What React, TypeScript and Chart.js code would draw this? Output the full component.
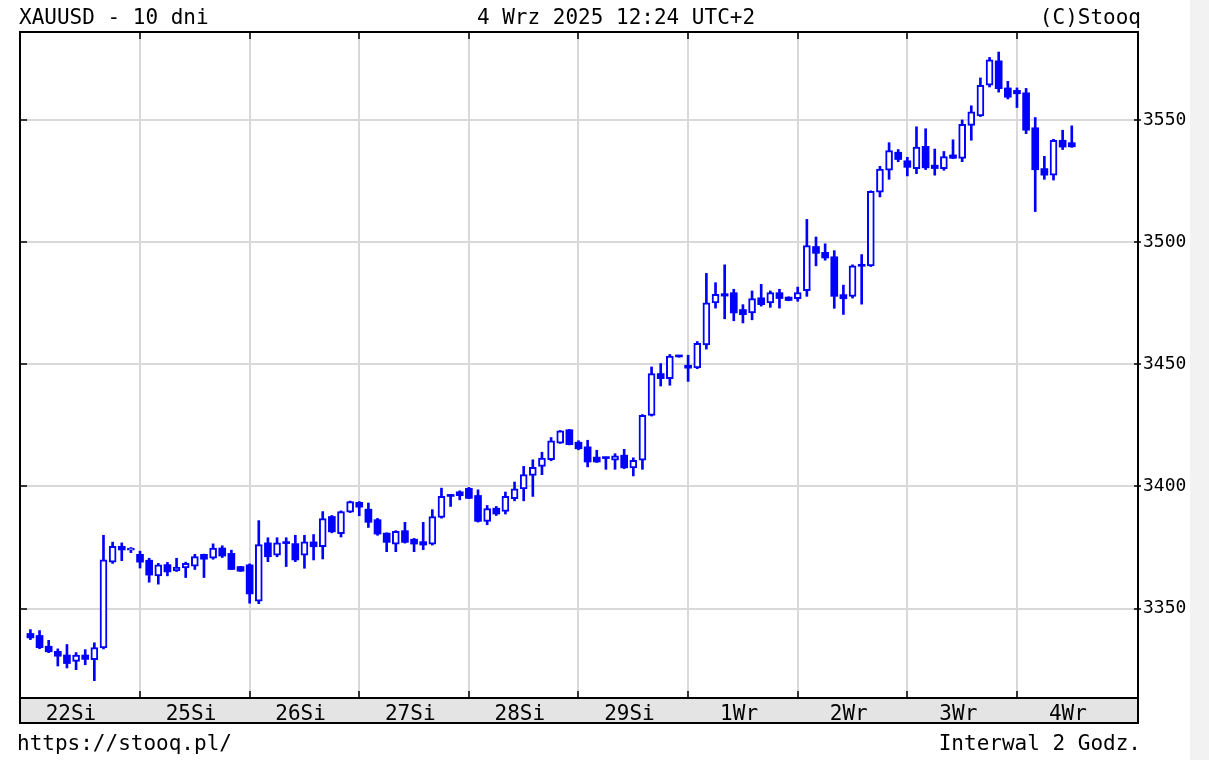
import React, { useEffect, useRef } from "react";
import { Chart, registerables } from "chart.js";

Chart.register(...registerables);

const TITLE_LEFT = "XAUUSD - 10 dni";
const TITLE_CENTER = "4 Wrz 2025 12:24 UTC+2";
const TITLE_RIGHT = "(C)Stooq";
const FOOT_LEFT = "https://stooq.pl/";
const FOOT_RIGHT = "Interwal 2 Godz.";

const dayLabels = ["22Si", "25Si", "26Si", "27Si", "28Si", "29Si", "1Wr", "2Wr", "3Wr", "4Wr"];
const dayStarts = [0, 12, 24, 36, 48, 60, 72, 84, 96, 108];
const yTicks = [3350, 3400, 3450, 3500, 3550];

const opens = [
  3339.8, 3339.0, 3334.6, 3332.5, 3331.0, 3328.4, 3331.0, 3329.1, 3333.9, 3369.0, 3375.5, 3373.9,
  3372.2, 3369.8, 3363.4, 3368.0, 3365.4, 3366.6, 3367.4, 3372.2, 3370.6, 3374.8, 3372.6, 3367.2,
  3367.9, 3353.0, 3376.9, 3371.9, 3377.0, 3376.6, 3371.9, 3377.3, 3375.3, 3387.7, 3380.7, 3389.5,
  3393.5, 3390.7, 3386.4, 3380.9, 3376.4, 3381.9, 3378.4, 3377.4, 3376.4, 3387.3, 3396.6, 3397.8,
  3399.2, 3396.3, 3385.7, 3391.1, 3389.8, 3395.0, 3399.0, 3404.5, 3408.2, 3410.9, 3417.7, 3423.2,
  3418.1, 3416.2, 3412.0, 3411.7, 3410.7, 3412.8, 3407.6, 3410.7, 3429.1, 3446.2, 3444.1, 3453.1,
  3449.6, 3448.5, 3457.9, 3475.1, 3478.9, 3479.3, 3472.4, 3471.0, 3477.2, 3475.1, 3479.3, 3477.5,
  3476.9, 3480.1, 3498.2, 3495.8, 3494.0, 3478.5, 3477.8, 3490.4, 3490.3, 3520.4, 3529.4, 3536.8,
  3533.3, 3530.1, 3539.2, 3531.5, 3530.1, 3535.7, 3534.3, 3547.8, 3551.7, 3564.2, 3574.2, 3563.1,
  3562.1, 3561.1, 3546.8, 3530.1, 3527.4, 3541.7, 3540.7,
];
const highs = [
  3341.4, 3341.0, 3337.0, 3333.5, 3335.3, 3332.0, 3333.2, 3336.0, 3380.0, 3377.2, 3376.9, 3375.0,
  3373.5, 3370.6, 3368.5, 3368.9, 3370.6, 3369.0, 3372.2, 3372.3, 3376.5, 3375.7, 3373.9, 3367.3,
  3368.3, 3386.0, 3379.0, 3379.0, 3379.0, 3380.0, 3380.0, 3380.3, 3389.7, 3388.1, 3390.0, 3394.0,
  3393.8, 3393.2, 3386.9, 3381.0, 3381.9, 3385.3, 3378.7, 3385.3, 3390.5, 3399.3, 3396.7, 3398.2,
  3399.6, 3398.6, 3392.2, 3391.8, 3397.7, 3401.8, 3408.2, 3410.9, 3414.0, 3420.0, 3422.9, 3423.3,
  3418.7, 3418.9, 3414.8, 3411.8, 3413.4, 3415.2, 3411.7, 3429.4, 3448.9, 3450.3, 3454.0, 3453.2,
  3453.7, 3459.3, 3487.2, 3483.4, 3490.7, 3480.7, 3474.4, 3480.0, 3482.7, 3480.0, 3480.7, 3477.6,
  3481.6, 3509.3, 3502.1, 3499.3, 3496.5, 3482.4, 3490.7, 3494.9, 3521.0, 3531.0, 3540.7, 3537.9,
  3534.7, 3547.2, 3546.4, 3538.1, 3537.1, 3541.9, 3550.0, 3555.8, 3567.2, 3575.6, 3577.8, 3565.8,
  3563.1, 3562.9, 3551.0, 3535.1, 3542.1, 3545.8, 3547.6,
];
const lows = [
  3337.3, 3333.6, 3332.0, 3326.5, 3325.7, 3325.0, 3327.0, 3320.5, 3333.5, 3368.5, 3369.6, 3372.9,
  3366.6, 3360.8, 3360.0, 3363.4, 3365.2, 3362.7, 3366.0, 3362.7, 3370.2, 3370.9, 3366.0, 3365.2,
  3352.2, 3352.0, 3369.2, 3371.2, 3367.2, 3369.2, 3366.5, 3369.9, 3370.3, 3381.0, 3379.3, 3389.3,
  3388.0, 3383.2, 3380.0, 3373.3, 3373.3, 3376.8, 3373.3, 3374.1, 3376.0, 3387.0, 3391.8, 3394.5,
  3395.0, 3385.4, 3384.3, 3388.1, 3388.7, 3394.1, 3394.1, 3395.9, 3404.8, 3410.5, 3417.6, 3417.0,
  3415.0, 3408.0, 3409.8, 3407.0, 3407.0, 3407.3, 3404.3, 3407.0, 3428.8, 3441.1, 3441.4, 3452.9,
  3443.0, 3448.2, 3456.2, 3473.0, 3468.6, 3467.8, 3466.9, 3468.2, 3473.8, 3473.3, 3473.0, 3476.0,
  3475.8, 3477.8, 3490.3, 3492.6, 3472.9, 3470.4, 3477.1, 3474.6, 3490.0, 3518.5, 3525.7, 3532.9,
  3527.1, 3528.0, 3529.7, 3527.4, 3529.4, 3534.2, 3532.9, 3541.7, 3551.4, 3563.5, 3561.4, 3558.6,
  3555.1, 3544.4, 3512.5, 3525.7, 3525.4, 3537.9, 3538.8,
];
const closes = [
  3338.0, 3334.0, 3332.3, 3330.5, 3327.5, 3331.0, 3329.2, 3334.0, 3370.0, 3375.5, 3374.0, 3374.1,
  3369.0, 3363.7, 3367.9, 3365.0, 3367.0, 3368.5, 3371.3, 3370.2, 3374.8, 3371.5, 3366.0, 3365.3,
  3356.0, 3376.2, 3371.2, 3376.9, 3376.6, 3369.9, 3377.3, 3375.3, 3386.8, 3381.4, 3389.7, 3393.8,
  3391.5, 3385.3, 3380.5, 3377.1, 3381.6, 3377.1, 3376.4, 3376.0, 3387.7, 3395.9, 3395.9, 3396.2,
  3395.1, 3385.7, 3390.9, 3388.7, 3395.9, 3399.0, 3404.8, 3407.8, 3411.6, 3418.7, 3422.8, 3417.1,
  3415.4, 3410.0, 3410.0, 3411.4, 3412.5, 3407.6, 3410.7, 3429.1, 3446.2, 3444.1, 3453.4, 3453.0,
  3448.4, 3458.6, 3475.1, 3478.6, 3477.9, 3471.0, 3470.3, 3476.9, 3474.4, 3479.3, 3476.9, 3476.1,
  3479.3, 3498.6, 3495.4, 3493.5, 3477.8, 3476.8, 3490.3, 3490.1, 3520.8, 3529.9, 3537.5, 3533.8,
  3530.6, 3538.9, 3530.4, 3530.1, 3535.0, 3534.3, 3548.2, 3553.3, 3564.2, 3574.6, 3562.8, 3559.3,
  3560.7, 3545.8, 3529.6, 3527.4, 3541.7, 3538.9, 3539.0,
];

const X_MIN = -1.14;
const X_MAX = 121.25;
const Y_MIN = 3313.4;
const Y_MAX = 3586.0;
const LABEL_SHIFT = 5.58;

const BLUE = "#0000ff";
const GRID = "#d9d9d9";
const FONT = "'DejaVu Sans Mono', monospace";
const BAND_H = 25;

const framePlugin = {
  id: "stooqFrame",
  beforeDraw(chart: any) {
    const { ctx, chartArea: a } = chart;
    ctx.save();
    ctx.fillStyle = "#ffffff";
    ctx.fillRect(0, 0, chart.width, chart.height);
    ctx.fillStyle = "#f2f2f2";
    ctx.fillRect(1190, 0, chart.width - 1190, chart.height);
    ctx.fillStyle = "#e4e4e4";
    ctx.fillRect(a.left, a.bottom, a.right - a.left, BAND_H);
    ctx.restore();
  },
  afterDraw(chart: any) {
    const { ctx, chartArea: a } = chart;
    const xs = chart.scales.x;
    const ys = chart.scales.y;
    ctx.save();
    ctx.strokeStyle = "#000";
    ctx.lineWidth = 2;
    ctx.strokeRect(a.left, a.top, a.right - a.left, a.bottom + BAND_H - a.top);
    ctx.beginPath();
    ctx.moveTo(a.left, a.bottom);
    ctx.lineTo(a.right, a.bottom);
    ctx.stroke();
    ctx.lineWidth = 1.5;
    ctx.beginPath();
    dayStarts.slice(1).forEach((d) => {
      const px = Math.round(xs.getPixelForValue(d));
      ctx.moveTo(px, a.bottom - 7);
      ctx.lineTo(px, a.bottom);
      ctx.moveTo(px, a.top);
      ctx.lineTo(px, a.top + 7);
    });
    yTicks.forEach((v) => {
      const py = Math.round(ys.getPixelForValue(v));
      ctx.moveTo(a.left, py);
      ctx.lineTo(a.left + 7, py);
      ctx.moveTo(a.right - 4, py);
      ctx.lineTo(a.right + 3, py);
    });
    ctx.stroke();

    ctx.fillStyle = "#000";
    ctx.font = "21px " + FONT;
    ctx.textBaseline = "middle";
    ctx.textAlign = "left";
    ctx.fillText(TITLE_LEFT, 19, 19);
    ctx.fillText(FOOT_LEFT, 17, 745);
    ctx.textAlign = "center";
    ctx.fillText(TITLE_CENTER, 616, 19);
    ctx.textAlign = "right";
    ctx.fillText(TITLE_RIGHT, 1141, 19);
    ctx.fillText(FOOT_RIGHT, 1141, 745);
    ctx.restore();
  },
};

export default function App() {
  const ref = useRef<HTMLCanvasElement>(null);

  useEffect(() => {
    const canvas = ref.current;
    if (!canvas) return;
    const idx = opens.map((_, i) => i);
    const upBodies = idx
      .filter((i) => closes[i] >= opens[i])
      .map((i) => ({ x: i, y: [opens[i], closes[i]] }));
    const downBodies = idx
      .filter((i) => closes[i] < opens[i])
      .map((i) => ({ x: i, y: [closes[i], opens[i]] }));
    const wicks = idx.map((i) => ({ x: i, y: [lows[i], highs[i]] }));
    const labelPos = dayStarts.map((d, i) => (i === 0 ? X_MIN : d) + LABEL_SHIFT);

    const chart = new Chart(canvas, {
      type: "bar",
      data: {
        datasets: [
          {
            label: "up",
            data: upBodies as any,
            backgroundColor: "#ffffff",
            borderColor: BLUE,
            borderWidth: 2,
            borderSkipped: false,
            barThickness: 7,
            minBarLength: 2,
            grouped: false,
            order: 0,
          },
          {
            label: "down",
            data: downBodies as any,
            backgroundColor: BLUE,
            borderColor: BLUE,
            borderWidth: 0,
            borderSkipped: false,
            barThickness: 7,
            minBarLength: 2,
            grouped: false,
            order: 0,
          },
          {
            label: "wick",
            data: wicks as any,
            backgroundColor: BLUE,
            borderWidth: 0,
            barThickness: 2,
            grouped: false,
            order: 1,
          },
        ],
      },
      options: {
        responsive: false,
        animation: false,
        events: [],
        layout: { padding: { left: 20, top: 32, right: 0, bottom: 0 } },
        plugins: { legend: { display: false }, tooltip: { enabled: false }, title: { display: false } },
        scales: {
          x: {
            type: "linear",
            position: "bottom",
            offset: false,
            min: X_MIN,
            max: X_MAX,
            afterBuildTicks: (s: any) => {
              s.ticks = dayStarts.slice(1).map((v) => ({ value: v }));
            },
            afterFit: (s: any) => {
              s.height = 0;
            },
            ticks: { display: false },
            grid: { color: GRID, lineWidth: 2, drawTicks: false, offset: false },
            border: { display: false },
          },
          xl: {
            type: "linear",
            position: "bottom",
            offset: false,
            min: X_MIN,
            max: X_MAX,
            afterBuildTicks: (s: any) => {
              s.ticks = labelPos.map((v) => ({ value: v }));
            },
            afterFit: (s: any) => {
              s.height = 62;
            },
            ticks: {
              autoSkip: false,
              maxRotation: 0,
              padding: 4,
              color: "#000",
              font: { family: FONT, size: 21 },
              callback: (_v: any, i: number) => dayLabels[i],
            },
            grid: { display: false, drawTicks: false, offset: false },
            border: { display: false },
          },
          y: {
            type: "linear",
            position: "right",
            min: Y_MIN,
            max: Y_MAX,
            afterBuildTicks: (s: any) => {
              s.ticks = yTicks.map((v) => ({ value: v }));
            },
            afterFit: (s: any) => {
              s.width = 71;
            },
            ticks: {
              padding: 5,
              color: "#000",
              font: { family: FONT, size: 18 },
              callback: (v: any) => String(v),
            },
            grid: { color: GRID, lineWidth: 2, drawTicks: false },
            border: { display: false },
          },
        },
      } as any,
      plugins: [framePlugin],
    });
    return () => chart.destroy();
  }, []);

  return (
    <div style={{ position: "fixed", left: 0, top: 0, width: 1209, height: 760, background: "#fff" }}>
      <canvas ref={ref} width={1209} height={760} style={{ display: "block", width: 1209, height: 760 }} />
    </div>
  );
}
